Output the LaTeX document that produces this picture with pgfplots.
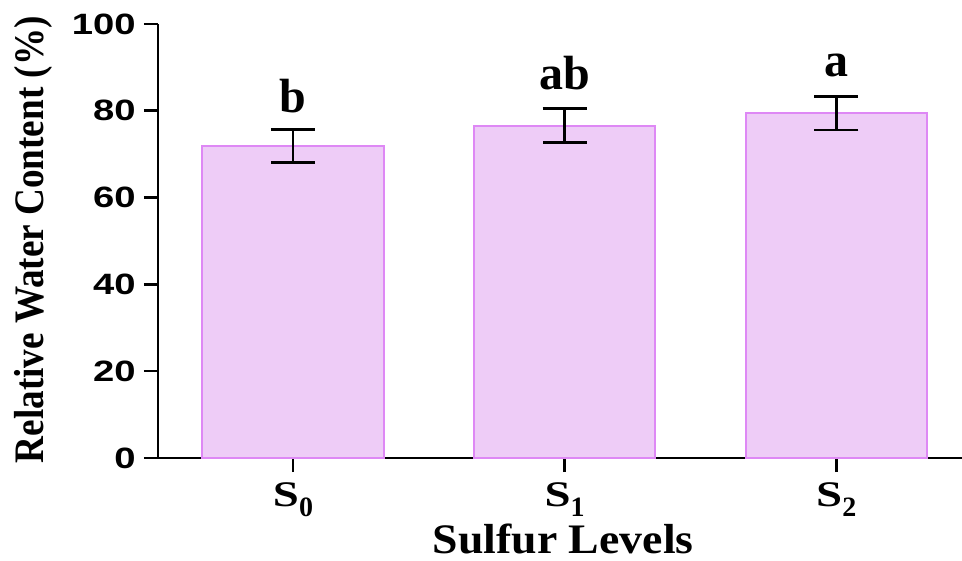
\documentclass[border=0pt]{standalone}
\usepackage{pgfplots}
\pgfplotsset{compat=1.18}
\usepackage{fontspec}
\setmainfont{Liberation Serif}
\newfontfamily\ticksans{Liberation Sans}
\definecolor{barfill}{RGB}{238,204,247}
\definecolor{baredge}{RGB}{222,136,245}
\newcommand{\Slab}[1]{\scalebox{1.3}[1]{\fontsize{18}{18}\selectfont\bfseries S}\raisebox{-5pt}{\fontsize{14}{14}\selectfont\bfseries #1}}
\begin{document}
\begin{tikzpicture}
\begin{axis}[
  scale only axis, width=402pt, height=217pt,
  xmin=-0.497, xmax=2.463, ymin=0, ymax=100,
  axis x line*=bottom, axis y line*=left,
  axis line style={line width=1.3pt, black},
  xtick={0,1,2}, xticklabels={\Slab{0},\Slab{1},\Slab{2}},
  ytick={0,20,40,60,80,100},
  tick align=outside, major tick length=7pt,
  tick style={line width=1.3pt, black},
  /pgf/number format/assume math mode=true,
  yticklabel={\scalebox{1.3}[1]{\pgfmathprintnumber{\tick}}},
  y tick label style={font=\ticksans\bfseries\fontsize{14.7}{15}\selectfont, inner sep=0pt, xshift=-4pt},
  x tick label style={inner sep=0pt, yshift=-5pt},
  xlabel={\scalebox{1.09}[1]{Sulfur Levels}},
  x label style={at={(axis description cs:0.504,-0.219)}, anchor=base, font=\bfseries\fontsize{21}{21}\selectfont},
  ylabel={\scalebox{0.885}[1]{Relative Water Content (\%)}},
  y label style={at={(axis description cs:-0.143,0.503)}, anchor=base, font=\bfseries\fontsize{21}{21}\selectfont},
  clip=false,
]
\addplot[ybar, bar width=0.667, fill=barfill, draw=baredge, line width=1pt,
  error bars/.cd, y dir=both, y explicit,
  error bar style={line width=1.3pt, black},
  error mark options={rotate=90, mark size=11pt, line width=1.3pt, black}]
  coordinates {(0,71.9) +- (0,3.75) (1,76.6) +- (0,3.95) (2,79.45) +- (0,3.9)};
\node[anchor=base, font=\bfseries\fontsize{24}{24}\selectfont] at (axis cs:0,79.5) {b};
\node[anchor=base, font=\bfseries\fontsize{24}{24}\selectfont] at (axis cs:1,85.0) {ab};
\node[anchor=base, font=\bfseries\fontsize{24}{24}\selectfont] at (axis cs:2,87.8) {a};
\coordinate (O) at (rel axis cs:0,0);
\end{axis}
\pgfresetboundingbox
\path[use as bounding box] (O) ++(-79pt,-51.5pt) rectangle ++(481pt,280.5pt);
\end{tikzpicture}
\end{document}
